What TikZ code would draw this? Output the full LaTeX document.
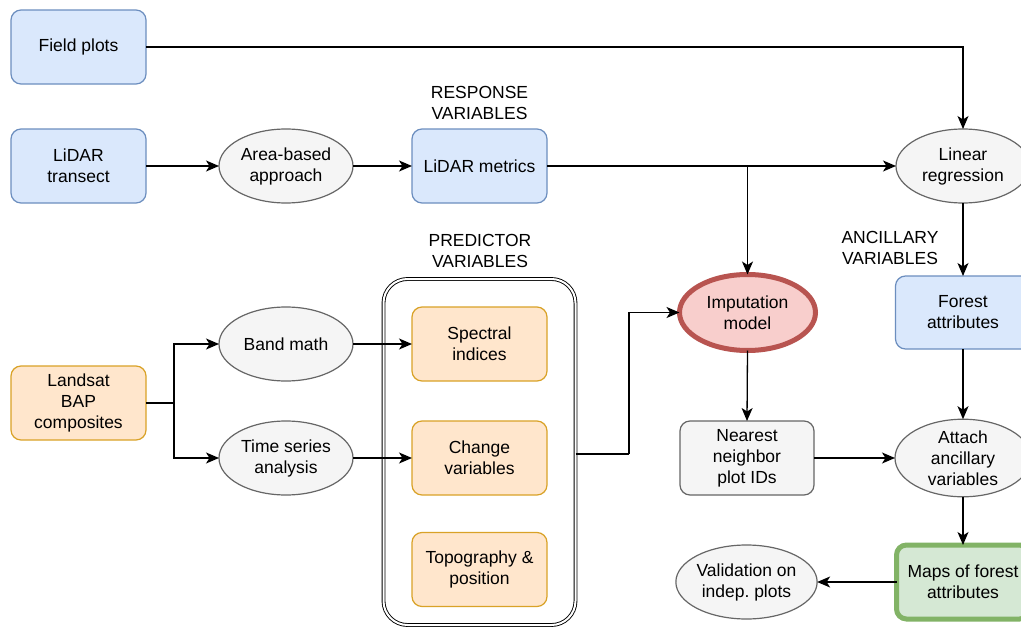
\documentclass[tikz,border=0pt]{standalone}
\usepackage{fontspec}
\setmainfont{Liberation Sans}
\usetikzlibrary{arrows.meta,shapes.geometric}
\definecolor{bluefill}{HTML}{DAE8FC}
\definecolor{blueline}{HTML}{6C8EBF}
\definecolor{orfill}{HTML}{FFE6CC}
\definecolor{orline}{HTML}{D9A227}
\definecolor{grfill}{HTML}{F5F5F5}
\definecolor{grline}{HTML}{666666}
\definecolor{redfill}{HTML}{F8CECC}
\definecolor{redline}{HTML}{B85450}
\definecolor{gnfill}{HTML}{D5E8D4}
\definecolor{gnline}{HTML}{82B366}
\tikzset{
  base/.style={inner sep=0pt, outer sep=0pt, align=center, font=\fontsize{17.5}{21}\selectfont, line width=1.2pt},
  bluebox/.style={base, rectangle, rounded corners=10pt, draw=blueline, fill=bluefill, minimum width=135pt, minimum height=74pt},
  orbox/.style={base, rectangle, rounded corners=10pt, draw=orline, fill=orfill, minimum width=135pt, minimum height=74pt},
  graybox/.style={base, rectangle, rounded corners=10pt, draw=grline, fill=grfill, minimum width=134pt, minimum height=74pt},
  oval/.style={base, ellipse, draw=grline, fill=grfill, minimum width=134pt, minimum height=74pt},
  lbl/.style={inner sep=0pt, align=center, font=\fontsize{17.5}{21}\selectfont},
  arr/.style={line width=1.3pt, -{Stealth[length=13pt,width=11pt,inset=3.5pt]}},
  ln/.style={line width=1.3pt}
}
\begin{document}
\begin{tikzpicture}[x=1pt,y=-1pt]
\clip (0,0) rectangle (1021,629);
\fill[white] (0,0) rectangle (1021,629);

% container
\node[base, rectangle, rounded corners=24pt, draw=black, line width=0.9pt, double=white, double distance=2pt,
      minimum width=192pt, minimum height=346pt] (cont) at (479.5,452) {};

% nodes
\node[bluebox] (fp) at (78.5,47) {Field plots};
\node[bluebox] (lt) at (78.5,166) {LiDAR\\transect};
\node[oval] (ab) at (286,166) {Area-based\\approach};
\node[bluebox] (lm) at (479.5,166) {LiDAR metrics};
\node[oval] (lr) at (963,166) {Linear\\regression};
\node[base, ellipse, draw=redline, fill=redfill, line width=5pt, minimum width=136pt, minimum height=76pt] (im) at (747.5,312.5) {Imputation\\model};
\node[bluebox, minimum height=73pt] (fa) at (963,312.5) {Forest\\attributes};
\node[orbox] (ls) at (78.5,403) {Landsat\\BAP\\composites};
\node[oval] (bm) at (286,344) {Band math};
\node[oval] (ts) at (286,458) {Time series\\analysis};
\node[orbox] (si) at (479.5,344) {Spectral\\indices};
\node[orbox] (cv) at (479.5,458) {Change\\variables};
\node[orbox] (tp) at (479.5,569.5) {Topography \&\\position};
\node[graybox] (nn) at (747,458) {Nearest\\neighbor\\plot IDs};
\node[oval, minimum width=136pt] (at) at (963,458) {Attach\\ancillary\\variables};
\node[base, rectangle, rounded corners=10pt, draw=gnline, fill=gnfill, line width=5pt, minimum width=133pt, minimum height=74pt] (mp) at (963,582) {Maps of forest\\attributes};
\node[oval, minimum width=133pt] (va) at (746.5,582) {Validation on\\indep.\ plots};

% labels
\node[lbl] (resp) at (479.5,102.5) {RESPONSE\\VARIABLES};
\node[lbl] (pred) at (480,251) {PREDICTOR\\VARIABLES};
\node[lbl] (anc) at (890,248) {ANCILLARY\\VARIABLES};

% connectors
\draw[arr] (fp.east) -| (lr.north);
\draw[arr] (lt.east) -- (ab.west);
\draw[arr] (ab.east) -- (lm.west);
\draw[arr] (lm.east) -- (lr.west);
\coordinate (j1) at (im.north |- lm.east);
\draw[arr] (j1) -- (im.north);
\draw[arr] (lr.south) -- (fa.north);
\draw[arr] (fa.south) -- (at.north);
\draw[arr] (at.south) -- (mp.north);
\draw[arr] (mp.west) -- (va.east);
\draw[arr] (nn.east) -- (at.west);
\draw[arr] (im.south) -- (nn.north);

\coordinate (j2) at (174,403);
\draw[ln] (ls.east) -- (j2);
\draw[arr] (j2) |- (bm.west);
\draw[arr] (j2) |- (ts.west);
\draw[arr] (bm.east) -- (si.west);
\draw[arr] (ts.east) -- (cv.west);

\coordinate (j3) at (629,454);
\draw[ln] (cont.east |- j3) -- (j3);
\draw[arr] (j3) |- (im.west);
\end{tikzpicture}
\end{document}
